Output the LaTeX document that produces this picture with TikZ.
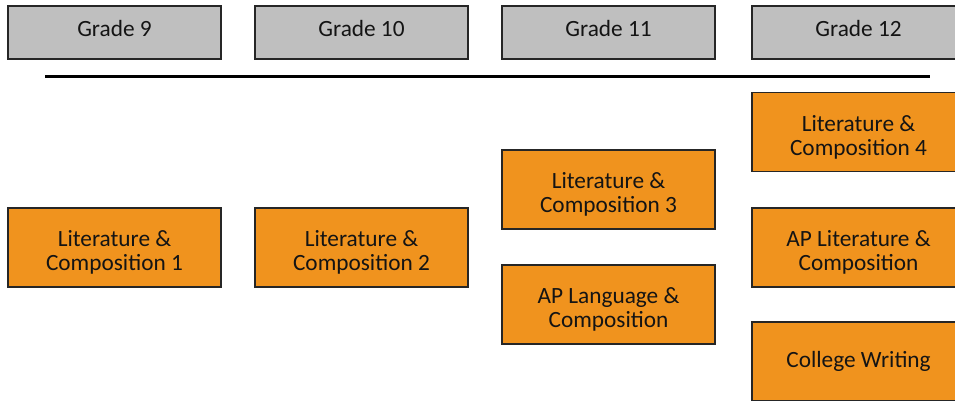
\documentclass[tikz,border=0pt]{standalone}
\usepackage{fontspec}
\setmainfont{Carlito}
\usetikzlibrary{calc}
\definecolor{gradegray}{RGB}{191,191,191}
\definecolor{courseorange}{RGB}{240,147,30}
\begin{document}
\begin{tikzpicture}[x=1pt,y=-1pt,
  basebox/.style={draw=black!85, line width=1.5pt, minimum width=213pt, inner sep=0pt},
  gradebox/.style={basebox, fill=gradegray, minimum height=53pt},
  coursebox/.style={basebox, fill=courseorange, minimum height=79pt},
  label text/.style={align=center, inner sep=0pt, anchor=base,
    font=\fontsize{23.3}{24.2}\selectfont, text=black!92}]
\useasboundingbox (0,0) rectangle (955,400);
\clip (0,0) rectangle (955,400);
\node[gradebox] (g9)  at (114.5,32.5) {};
\node[gradebox] (g10) at (361.5,32.5) {};
\node[gradebox] (g11) at (608.5,32.5) {};
\node[gradebox] (g12) at (858.5,32.5) {};
\foreach \n/\t in {g9/Grade 9, g10/Grade 10, g11/Grade 11, g12/Grade 12}
  \node[label text] (\n t) at ($(\n.center)+(0,4.2)$) {\t};
\coordinate (la) at (45,76);
\coordinate (lb) at (930,76);
\draw[line width=3pt] (la) -- (lb);
\node[coursebox] (c1) at (114.5,247.5) {};
\node[coursebox] (c2) at (361.5,247.5) {};
\node[coursebox] (c3) at (608.5,189.5) {};
\node[coursebox] (c4) at (608.5,304.5) {};
\node[coursebox] (c5) at (858.5,132) {};
\node[coursebox] (c6) at (858.5,247.5) {};
\node[coursebox] (c7) at (858.5,361.5) {};
\node[label text] (c1t) at ($(c1.center)+(0,23.3)$) {Literature \&\\Composition 1};
\node[label text] (c2t) at ($(c2.center)+(0,23.3)$) {Literature \&\\Composition 2};
\node[label text] (c3t) at ($(c3.center)+(0,23.3)$) {Literature \&\\Composition 3};
\node[label text] (c4t) at ($(c4.center)+(0,23.3)$) {AP Language \&\\Composition};
\node[label text] (c5t) at ($(c5.center)+(0,23.3)$) {Literature \&\\Composition 4};
\node[label text] (c6t) at ($(c6.center)+(0,23.3)$) {AP Literature \&\\Composition};
\node[label text] (c7t) at ($(c7.center)+(0,5.5)$) {College Writing};
\end{tikzpicture}
\end{document}
